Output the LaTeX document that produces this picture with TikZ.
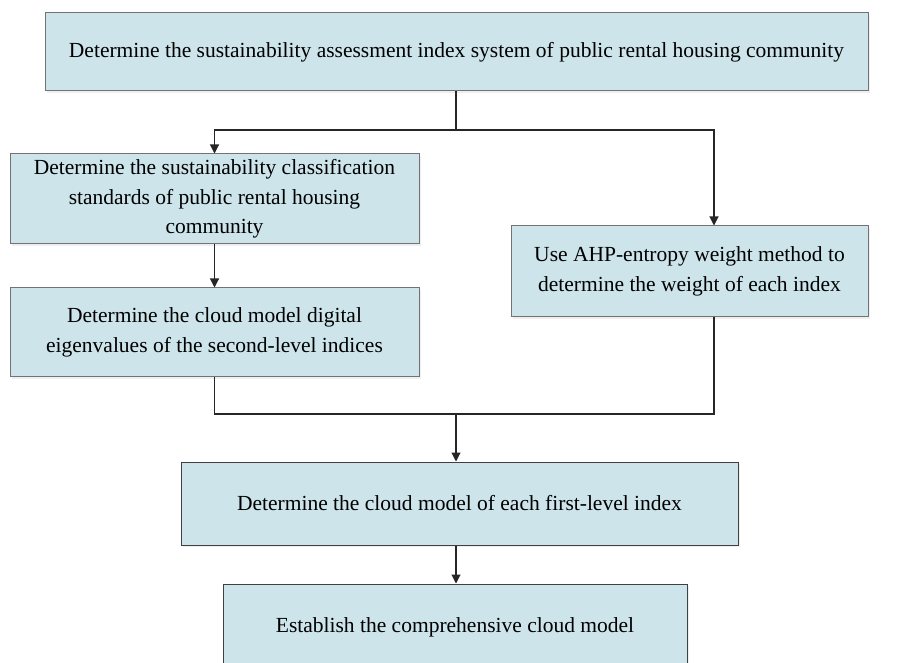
\documentclass[tikz,border=0pt]{standalone}
\usepackage{fontspec}
\setmainfont{Liberation Serif}
\usetikzlibrary{arrows.meta,shadows}
\definecolor{boxblue}{RGB}{204,228,234}
\tikzset{
%Define standard arrow tip
>={Triangle[length=9pt,width=9pt]},
%Define style for boxes and connectors
step box/.style={draw=black!55, line width=1pt, fill=boxblue,
  drop shadow={shadow xshift=2pt, shadow yshift=-2pt, fill=black!12},
  align=center, inner sep=0pt, font=\fontsize{21.5}{29.5}\selectfont},
dark box/.style={step box, draw=black!75},
connection/.style={line width=1.1pt, black!85},
}

\begin{document}
\begin{tikzpicture}[x=1pt,y=-1pt]
    \useasboundingbox (0,0) rectangle (906,663);
    % Boxes
    \node[step box, minimum width=823pt, minimum height=78pt] (system) at (456.5,52)
      {Determine the sustainability assessment index system of public rental housing community};
    \node[step box, minimum width=409pt, minimum height=90pt] (standards) at (214.5,199)
      {Determine the sustainability classification\\ standards of public rental housing\\ community};
    \node[step box, minimum width=409pt, minimum height=89pt] (eigen) at (214.5,332.5)
      {Determine the cloud model digital\\ eigenvalues of the second-level indices};
    \node[step box, minimum width=357pt, minimum height=91pt] (weight) at (689.5,271.5)
      {Use AHP-entropy weight method to\\ determine the weight of each index};
    \node[dark box, minimum width=557pt, minimum height=83pt] (first) at (459.5,503.5)
      {Determine the cloud model of each first-level index};
    \node[dark box, minimum width=464pt, minimum height=86pt] (overall) at (455,627)
      {Establish the comprehensive cloud model};

    % Let us define some coordinates
    \path
    coordinate (split) at (456,130)
    coordinate (wtop) at (714,0)
    coordinate (join) at (456,414);

    % Draw the connectors
    \draw[connection] (system.south -| split) -- (split);
    \draw[connection,->] (split) -| (standards.north);
    \draw[connection,->] (split) -| (weight.north -| wtop);
    \draw[connection,->] (standards) -- (eigen);
    \draw[connection] (eigen.south) |- (join);
    \draw[connection] (weight.south -| wtop) |- (join);
    \draw[connection,->] (join) -- (first.north -| join);
    \draw[connection,->] (first.south -| join) -- (overall.north -| join);
\end{tikzpicture}
\end{document}
